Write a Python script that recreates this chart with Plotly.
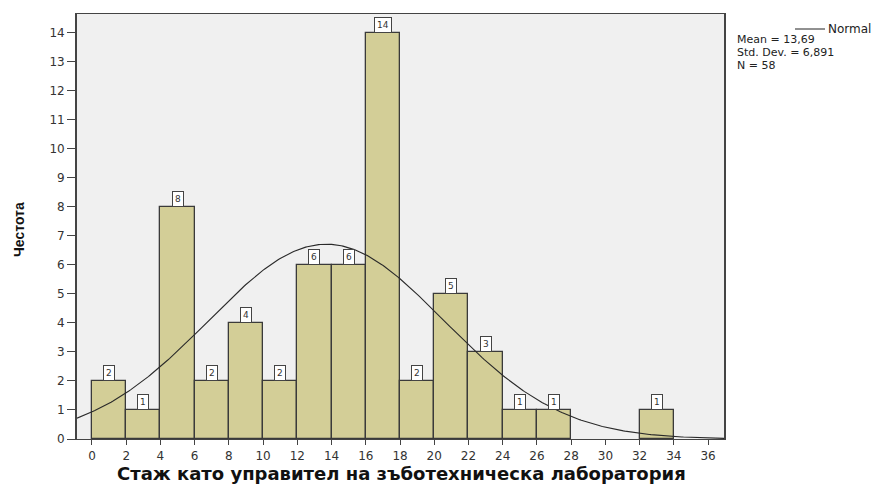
import numpy as np
import plotly.graph_objects as go

# Histogram bins (width 2) and their frequencies
bin_starts = [0, 2, 4, 6, 8, 10, 12, 14, 16, 18, 20, 22, 24, 26, 28, 30, 32]
counts = [2, 1, 8, 2, 4, 2, 6, 6, 14, 2, 5, 3, 1, 1, 0, 0, 1]
bin_width = 2

# Summary statistics shown in the legend
mean_val = 13.69
std_val = 6.891
n_total = 58

x_ticks = list(range(0, 37, 2))
y_ticks = list(range(0, 15))

x_range = [-0.875, 36.93]
y_range = [0, 14.65]

x_title = "Стаж като управител на зъботехническа лаборатория"
y_title = "Честота"

sans = "Liberation Sans, Arial, sans-serif"
wide = "DejaVu Sans, Verdana, sans-serif"
bar_color = "#D3CE97"
edge_color = "#3a3a3a"

# plot area in pixels
L, R, T, B = 77, 724, 14, 439

fig = go.Figure()

# Bars (empty bins are left out)
bx = [s + bin_width / 2 for s, c in zip(bin_starts, counts) if c > 0]
by = [c for c in counts if c > 0]
fig.add_trace(go.Bar(
    x=bx, y=by, width=bin_width,
    marker=dict(color=bar_color, line=dict(color=edge_color, width=1.3)),
    hoverinfo="skip", showlegend=False,
))

# Fitted normal curve scaled to the counts
xs = np.linspace(x_range[0], x_range[1], 400)
ys = n_total * bin_width / (std_val * np.sqrt(2 * np.pi)) * np.exp(-0.5 * ((xs - mean_val) / std_val) ** 2)
fig.add_trace(go.Scatter(
    x=xs, y=ys, mode="lines",
    line=dict(color="#2a2a2a", width=1.1),
    hoverinfo="skip", showlegend=False,
))


def pxx(px):
    return (px - L) / (R - L)


def pxy(py):
    return (B - py) / (B - T)


# Count labels on each bar
annotations = []
for xc, c in zip(bx, by):
    annotations.append(dict(
        x=xc, y=c, xref="x", yref="y", text=str(c),
        showarrow=False, yanchor="bottom", yshift=0,
        font=dict(family=wide, size=9, color="#333333"),
        bgcolor="white", bordercolor="#444444", borderwidth=1, borderpad=2,
    ))

# Legend: line sample + statistics
annotations.append(dict(
    x=pxx(826), y=pxy(29), xref="paper", yref="paper", text="Normal",
    showarrow=False, xanchor="left", yanchor="middle",
    font=dict(family=wide, size=12, color="#222222"),
))
stats_lines = [
    "Mean = " + f"{mean_val:.2f}".replace(".", ","),
    "Std. Dev. = " + f"{std_val:.3f}".replace(".", ","),
    "N = " + str(n_total),
]
for i, t in enumerate(stats_lines):
    annotations.append(dict(
        x=pxx(735), y=pxy(40 + i * 12.5), xref="paper", yref="paper", text=t,
        showarrow=False, xanchor="left", yanchor="middle",
        font=dict(family=wide, size=11, color="#222222"),
    ))

# Axis titles
annotations.append(dict(
    x=pxx(401), y=pxy(473), xref="paper", yref="paper", text="<b>" + x_title + "</b>",
    showarrow=False, xanchor="center", yanchor="middle",
    font=dict(family=wide, size=18, color="#111111"),
))
annotations.append(dict(
    x=pxx(19), y=pxy(230), xref="paper", yref="paper", text="<b>" + y_title + "</b>",
    showarrow=False, xanchor="center", yanchor="middle", textangle=-90,
    font=dict(family=sans, size=14, color="#111111"),
))

shapes = [dict(
    type="line", xref="paper", yref="paper",
    x0=pxx(795), x1=pxx(825), y0=pxy(29), y1=pxy(29),
    line=dict(color="#222222", width=1),
)]

fig.update_layout(
    width=882, height=485,
    margin=dict(l=L, r=882 - R, t=T, b=485 - B, autoexpand=False),
    paper_bgcolor="white",
    plot_bgcolor="#F0F0F0",
    font=dict(family=wide, color="#333333"),
    bargap=0,
    annotations=annotations,
    shapes=shapes,
    xaxis=dict(
        range=x_range, tickmode="array", tickvals=x_ticks,
        ticktext=[str(v) for v in x_ticks], automargin=False,
        showgrid=False, zeroline=False,
        showline=True, linecolor="#444444", linewidth=1.4, mirror=True,
        ticks="outside", ticklen=5, tickcolor="#444444", tickwidth=1,
        tickfont=dict(family=wide, size=12, color="#333333"),
    ),
    yaxis=dict(
        range=y_range, tickmode="array", tickvals=y_ticks,
        ticktext=[str(v) for v in y_ticks], automargin=False,
        showgrid=False, zeroline=False,
        showline=True, linecolor="#444444", linewidth=1.8, mirror=True,
        ticks="outside", ticklen=8, tickcolor="#444444", tickwidth=1,
        tickfont=dict(family=wide, size=12, color="#333333"),
    ),
)

fig.write_html("out.html")
